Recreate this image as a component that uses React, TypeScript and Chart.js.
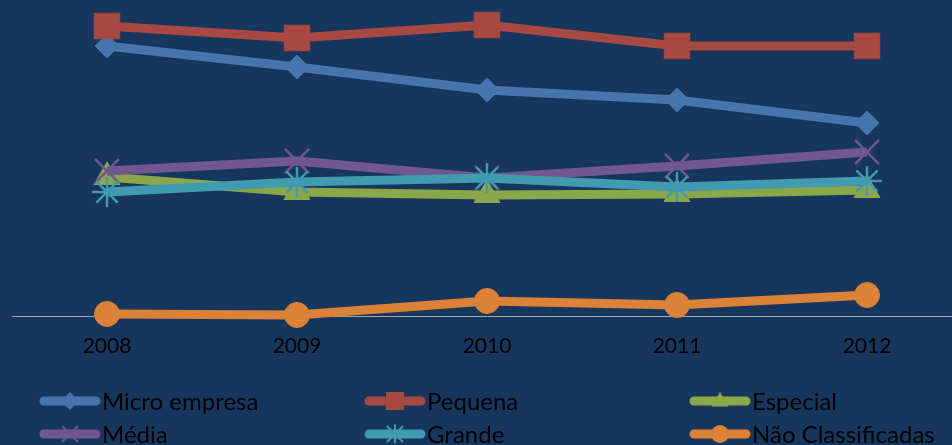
import React, { useEffect, useRef } from "react";
import { Chart, registerables } from "chart.js";

Chart.register(...registerables);

const categories = ["2008", "2009", "2010", "2011", "2012"];
const seriesNames = ["Micro empresa", "Pequena", "Especial", "Média", "Grande", "Não Classificadas"];
const microEmpresa = [27.0, 24.9, 22.6, 21.6, 19.3];
const pequena = [29.0, 27.8, 29.1, 27.0, 27.0];
const especial = [13.9, 12.4, 12.1, 12.2, 12.6];
const media = [14.5, 15.5, 13.8, 15.0, 16.4];
const grande = [12.4, 13.4, 13.8, 12.9, 13.5];
const naoClassificadas = [0.2, 0.1, 1.5, 1.1, 2.1];

const seriesValues = [microEmpresa, pequena, especial, media, grande, naoClassificadas];
const colors = ["#4674AD", "#A84843", "#8AA84A", "#71568F", "#3F9AB2", "#DB8138"];
const pointStyles = ["rectRot", "rect", "triangle", "crossRot", "star", "circle"];
const pointRadii = [12, 18, 15, 17, 15, 12.5];
const pointBorders = [1, 1, 1, 2.5, 2.5, 1];
const BG = "#17365D";
const FONT = "Lato, 'Noto Sans', sans-serif";

function drawMarker(ctx: CanvasRenderingContext2D, style: string, x: number, y: number, r: number, color: string) {
  ctx.save();
  ctx.fillStyle = color;
  ctx.strokeStyle = color;
  ctx.lineWidth = 2;
  ctx.beginPath();
  if (style === "rectRot") {
    ctx.moveTo(x, y - r); ctx.lineTo(x + r, y); ctx.lineTo(x, y + r); ctx.lineTo(x - r, y); ctx.closePath(); ctx.fill();
  } else if (style === "rect") {
    ctx.rect(x - r, y - r, 2 * r, 2 * r); ctx.fill();
  } else if (style === "triangle") {
    ctx.moveTo(x, y - r); ctx.lineTo(x + r * 0.95, y + r * 0.6); ctx.lineTo(x - r * 0.95, y + r * 0.6); ctx.closePath(); ctx.fill();
  } else if (style === "circle") {
    ctx.arc(x, y, r, 0, Math.PI * 2); ctx.fill();
  } else if (style === "crossRot") {
    ctx.moveTo(x - r, y - r); ctx.lineTo(x + r, y + r); ctx.moveTo(x + r, y - r); ctx.lineTo(x - r, y + r); ctx.stroke();
  } else if (style === "star") {
    ctx.moveTo(x - r, y - r); ctx.lineTo(x + r, y + r); ctx.moveTo(x + r, y - r); ctx.lineTo(x - r, y + r);
    ctx.moveTo(x, y - r * 1.2); ctx.lineTo(x, y + r * 1.2); ctx.stroke();
  }
  ctx.restore();
}

const legendPlugin = {
  id: "customLegend",
  afterDraw(chart: any) {
    const ctx = chart.ctx as CanvasRenderingContext2D;
    const colX = [40, 365, 690];
    const rowY = [401, 434];
    chart.data.datasets.forEach((ds: any, i: number) => {
      const x0 = colX[i % 3];
      const y = rowY[Math.floor(i / 3)];
      ctx.save();
      ctx.strokeStyle = ds.borderColor;
      ctx.lineWidth = 9;
      ctx.lineCap = "round";
      ctx.beginPath();
      ctx.moveTo(x0 + 4, y);
      ctx.lineTo(x0 + 56, y);
      ctx.stroke();
      ctx.restore();
      const ms = [9, 9, 9, 8, 8, 9][i];
      drawMarker(ctx, pointStyles[i], x0 + 30, y, ms, ds.borderColor);
      ctx.save();
      ctx.fillStyle = "#000000";
      ctx.font = `24px ${FONT}`;
      ctx.textBaseline = "alphabetic";
      ctx.textAlign = "left";
      ctx.fillText(ds.label, x0 + 62, y + 8.5);
      ctx.restore();
    });
  },
};

export default function App() {
  const ref = useRef<HTMLCanvasElement>(null);
  useEffect(() => {
    if (!ref.current) return;
    const chart = new Chart(ref.current, {
      type: "line",
      data: {
        labels: categories,
        datasets: seriesNames.map((name, i) => ({
          label: name,
          data: seriesValues[i],
          order: seriesNames.length - i,
          borderColor: colors[i],
          backgroundColor: colors[i],
          pointBackgroundColor: colors[i],
          pointBorderColor: colors[i],
          borderWidth: 9,
          pointStyle: pointStyles[i] as any,
          pointRadius: pointRadii[i],
          pointBorderWidth: pointBorders[i],
          pointHoverRadius: pointRadii[i],
          tension: 0,
          clip: false as any,
        })),
      },
      options: {
        animation: false,
        responsive: false,
        maintainAspectRatio: false,
        layout: { autoPadding: false, padding: { left: 12, right: 0, top: 0, bottom: 0 } },
        plugins: { legend: { display: false }, tooltip: { enabled: false } },
        scales: {
          x: {
            offset: true,
            grid: { display: false, drawTicks: false },
            border: { display: true, color: "#A6A6A6", width: 1 },
            ticks: { color: "#000000", font: { family: FONT, size: 21 }, padding: 18 },
            afterFit: (scale: any) => { scale.height = 129; },
          },
          y: {
            display: false,
            min: 0,
            max: 31.6,
          },
        },
      },
      plugins: [legendPlugin],
    });
    return () => chart.destroy();
  }, []);
  return (
    <div style={{ position: "fixed", left: 0, top: 0, width: 952, height: 445, overflow: "hidden", background: BG }}>
      <canvas ref={ref} width={962} height={445} style={{ display: "block", width: 962, height: 445 }} />
    </div>
  );
}
